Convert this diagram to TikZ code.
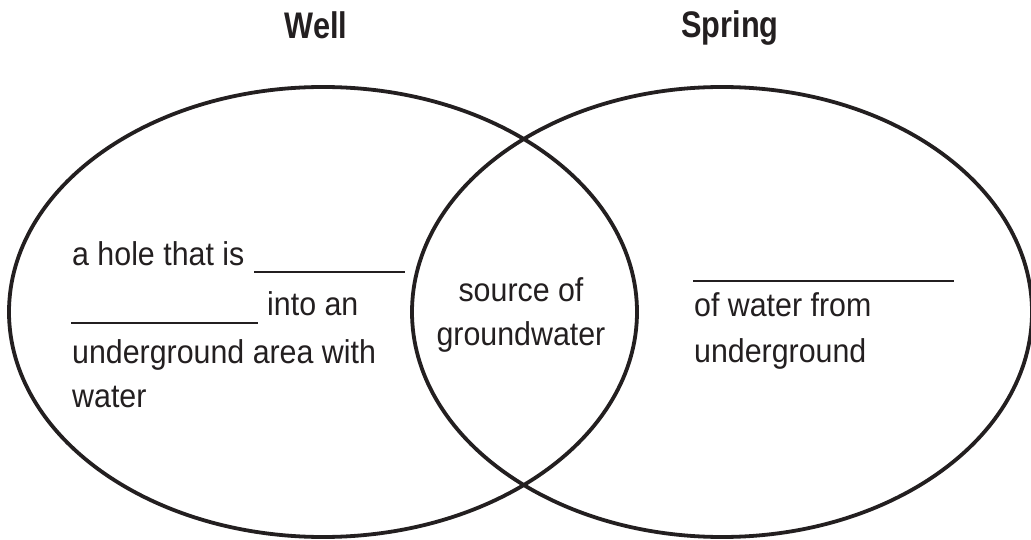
\documentclass[tikz,border=0pt]{standalone}
\usepackage{fontspec}
\newfontfamily\bodyfont{Liberation Sans}[FakeStretch=0.92]
\newfontfamily\titlefont{Liberation Sans}[FakeStretch=0.83,BoldFont={Liberation Sans Bold}]
\definecolor{ink}{HTML}{231F20}
\begin{document}
\begin{tikzpicture}[x=1pt,y=1pt,
  ring/.style={draw=ink,line width=3.8pt},
  title/.style={inner sep=0pt,anchor=base,text=ink,font=\titlefont\bfseries\fontsize{37}{44}\selectfont},
  body/.style={inner sep=0pt,anchor=base west,text=ink,font=\bodyfont\fontsize{33}{40}\selectfont},
  bodyc/.style={body,anchor=base},
  blank/.style={draw=ink,line width=2.8pt}]
\useasboundingbox (0,0) rectangle (1031,539);
\fill[white] (0,0) rectangle (1031,539);
% circles
\draw[ring] (323,227) ellipse [x radius=314, y radius=225];
\draw[ring] (722,227) ellipse [x radius=310, y radius=225];
% titles
\node[title] (well) at (316,500) {Well};
\node[title] (spring) at (730,501) {Spring};
% left text
\node[body] (l1) at (72,273) {a hole that is};
\coordinate (b1s) at (254,267); \coordinate (b1e) at (405,267);
\draw[blank] (b1s) -- (b1e);
\coordinate (b2s) at (71,216); \coordinate (b2e) at (258,216);
\draw[blank] (b2s) -- (b2e);
\node[body] (l2) at (267,224) {into an};
\node[body] (l3) at (72,176) {underground area with};
\node[body] (l4) at (72,132) {water};
% centre text
\node[bodyc] (c1) at (521,237) {source of};
\node[bodyc] (c2) at (521,194) {groundwater};
% right text
\coordinate (b3s) at (693,258); \coordinate (b3e) at (954,258);
\draw[blank] (b3s) -- (b3e);
\node[body] (r1) at (694,223) {of water from};
\node[body] (r2) at (694,177) {underground};
\end{tikzpicture}
\end{document}
